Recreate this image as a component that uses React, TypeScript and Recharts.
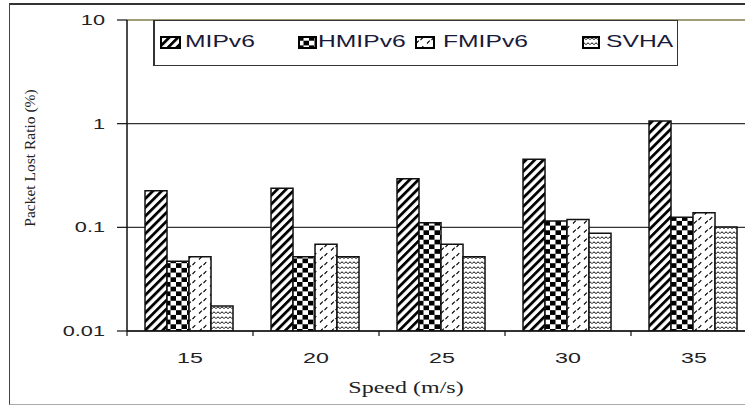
import React from 'react';
import { BarChart, Bar, XAxis, YAxis, CartesianGrid, ReferenceLine } from 'recharts';

const speeds = ['15', '20', '25', '30', '35'];
const mipv6 = [0.225, 0.238, 0.294, 0.453, 1.06];
const hmipv6 = [0.047, 0.052, 0.111, 0.115, 0.125];
const fmipv6 = [0.052, 0.0686, 0.0686, 0.119, 0.138];
const svha = [0.0174, 0.052, 0.052, 0.0875, 0.101];
const yTicks = [0.01, 0.1, 1, 10];
const seriesNames = ['MIPv6', 'HMIPv6', 'FMIPv6', 'SVHA'];
const patternIds = ['pMIP', 'pHMIP', 'pFMIP', 'pSVHA'];

const data = speeds.map((s, i) => ({
  speed: s,
  MIPv6: mipv6[i],
  HMIPv6: hmipv6[i],
  FMIPv6: fmipv6[i],
  SVHA: svha[i],
}));

const CHART_W = 760;
const CHART_H = 406;
const MARGIN = { top: 20, right: 3, bottom: 0, left: 0 };
const Y_AXIS_W = 127;
const X_AXIS_H = 75;
const PLOT_W = CHART_W - MARGIN.left - MARGIN.right - Y_AXIS_W;
const HALF_BAND = PLOT_W / speeds.length / 2;
const STRETCH = 1.55;
const SANS = "'Liberation Sans', Arial, sans-serif";
const SERIF = "'Liberation Serif', 'Times New Roman', serif";

const YTick = (props: any) => {
  const { x, y, payload } = props;
  return (
    <text
      transform={`translate(${x - 10},${y}) scale(${STRETCH},1)`}
      textAnchor="end"
      dominantBaseline="central"
      fontFamily={SANS}
      fontSize={14}
      fill="#222"
    >
      {String(payload.value)}
    </text>
  );
};

const XTick = (props: any) => {
  const { x, y, payload, index } = props;
  return (
    <g>
      <line x1={x - HALF_BAND} x2={x - HALF_BAND} y1={y} y2={y + 5} stroke="#111" strokeWidth={1.2} />
      <text
        transform={`translate(${x},${y + 27}) scale(${STRETCH},1)`}
        textAnchor="middle"
        dominantBaseline="central"
        fontFamily={SANS}
        fontSize={15}
        fill="#222"
      >
        {payload.value}
      </text>
    </g>
  );
};

const legendItems = [
  { icon: 160, text: 185, w: 21 },
  { icon: 298, text: 318, w: 19 },
  { icon: 415, text: 443, w: 20 },
  { icon: 582, text: 606, w: 18 },
];

export default function App() {
  return (
    <div
      style={{
        position: 'absolute',
        left: 0,
        top: 0,
        width: 745,
        height: 406,
        overflow: 'hidden',
        background: '#fff',
      }}
    >
      <div style={{ position: 'absolute', left: 0, top: 0, width: 745, height: 406, overflow: 'hidden' }}>
        <BarChart
          width={CHART_W}
          height={CHART_H}
          data={data}
          margin={MARGIN}
          barCategoryGap="14.3%"
          barGap={0}
        >
          <defs>
            <pattern id="pMIP" patternUnits="userSpaceOnUse" width="6.2" height="6.2" patternTransform="rotate(45)">
              <rect width="6.2" height="6.2" fill="#fff" />
              <rect width="2.8" height="6.2" fill="#000" />
            </pattern>
            <pattern id="pHMIP" patternUnits="userSpaceOnUse" width="11" height="9.4">
              <rect width="11" height="9.4" fill="#fff" />
              <rect width="5.5" height="4.7" fill="#000" />
              <rect x="5.5" y="4.7" width="5.5" height="4.7" fill="#000" />
            </pattern>
            <pattern id="pFMIP" patternUnits="userSpaceOnUse" width="11" height="9">
              <rect width="11" height="9" fill="#fff" />
              <path d="M1 7.5 L3.8 4.7 M5.5 4 L8.3 1.2" stroke="#000" strokeWidth="1.1" />
            </pattern>
            <pattern id="pSVHA" patternUnits="userSpaceOnUse" width="8" height="5">
              <rect width="8" height="5" fill="#fff" />
              <path d="M0 3.8 Q2 0.2 4 3.8 Q6 0.2 8 3.8" stroke="#000" strokeWidth="0.9" fill="none" />
            </pattern>
          </defs>
          <CartesianGrid vertical={false} stroke="#333" strokeWidth={1.2} />
          <ReferenceLine y={10} stroke="#a39f6e" strokeWidth={1.5} />
          <XAxis
            dataKey="speed"
            height={X_AXIS_H}
            axisLine={{ stroke: '#111', strokeWidth: 1.5 }}
            tickLine={false}
            tickSize={0}
            tickMargin={0}
            tick={<XTick />}
            interval={0}
          />
          <YAxis
            type="number"
            scale="log"
            domain={[0.01, 10]}
            ticks={yTicks}
            allowDataOverflow
            width={Y_AXIS_W}
            axisLine={{ stroke: '#111', strokeWidth: 1.5 }}
            tickLine={{ stroke: '#111', strokeWidth: 1.2 }}
            tickSize={10}
            tick={<YTick />}
            interval={0}
          />
          {seriesNames.map((name, i) => (
            <Bar
              key={name}
              dataKey={name}
              fill={`url(#${patternIds[i]})`}
              stroke="#111"
              strokeWidth={1.5}
              isAnimationActive={false}
            />
          ))}
        </BarChart>
      </div>
      <div
        style={{
          position: 'absolute',
          left: 406,
          top: 388,
          transform: 'translate(-50%,-50%) scale(1.5,1)',
          fontFamily: SERIF,
          fontSize: 16,
          lineHeight: '18px',
          color: '#222',
          whiteSpace: 'nowrap',
        }}
      >
        Speed (m/s)
      </div>
      <div
        style={{
          position: 'absolute',
          left: 30,
          top: 158,
          transform: 'translate(-50%,-50%) rotate(-90deg)',
          fontFamily: SERIF,
          fontSize: 15.5,
          lineHeight: '18px',
          color: '#222',
          whiteSpace: 'nowrap',
        }}
      >
        Packet Lost Ratio (%)
      </div>
      <div
        style={{
          position: 'absolute',
          left: 153,
          top: 20,
          width: 522,
          height: 44,
          border: '1.5px solid #333',
          borderLeftWidth: 2,
          background: '#fff',
        }}
      />
      {seriesNames.map((name, i) => (
        <React.Fragment key={name}>
          <svg
            width={legendItems[i].w}
            height={13}
            style={{ position: 'absolute', left: legendItems[i].icon, top: 36 }}
          >
            <rect
              x={1}
              y={1}
              width={legendItems[i].w - 2}
              height={11}
              fill={`url(#${patternIds[i]})`}
              stroke="#000"
              strokeWidth={2}
            />
          </svg>
          <div
            style={{
              position: 'absolute',
              left: legendItems[i].text,
              top: 32,
              fontFamily: SANS,
              fontSize: 17,
              lineHeight: '20px',
              color: '#1a1a3a',
              transform: `scale(1.45,1)`,
              transformOrigin: 'left center',
              whiteSpace: 'nowrap',
            }}
          >
            {name}
          </div>
        </React.Fragment>
      ))}
      <div
        style={{
          position: 'absolute',
          left: 9,
          top: 3,
          width: 736,
          height: 399,
          borderTop: '2px solid #333',
          borderLeft: '1.5px solid #444',
          borderBottom: '1.5px solid #aaa',
          borderRight: 'none',
          pointerEvents: 'none',
        }}
      />
    </div>
  );
}
